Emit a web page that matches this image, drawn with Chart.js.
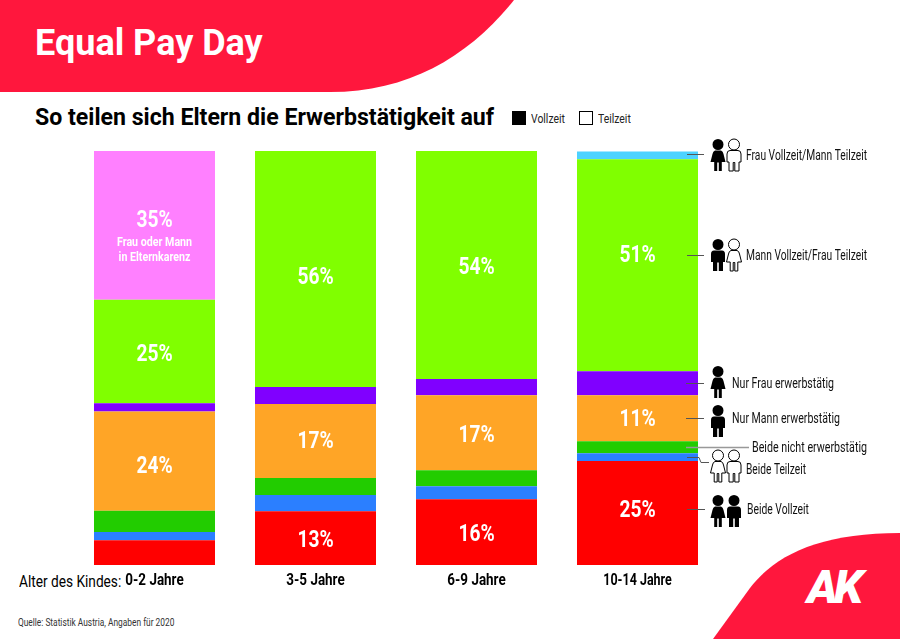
<!DOCTYPE html>
<html lang="de">
<head>
<meta charset="utf-8">
<title>Equal Pay Day</title>
<script src="https://cdn.jsdelivr.net/npm/chart.js@4"></script>
<style>
  html, body { margin: 0; padding: 0; background: #fff; }
  #page { position: relative; width: 900px; height: 639px; overflow: hidden; font-family: Roboto, sans-serif; color: #000; }
  #deko, #chart { position: absolute; left: 0; top: 0; }
  .txt { position: absolute; white-space: nowrap; line-height: 1; transform-origin: left center; }
  h1, h2 { margin: 0; }
  h1.txt { left: 35px; top: 25px; font-size: 36px; font-weight: 700; color: #fff; }
  h2.txt { left: 35px; top: 105px; font-size: 24px; font-weight: 700; transform: scaleX(.963); }
  .box { position: absolute; top: 111px; width: 14px; height: 14px; box-sizing: border-box; border: 1px solid #000; }
  .leg { top: 112px; font-size: 13px; transform: scaleX(.8); color: #222; }
  #alter { left: 19px; top: 574px; font-size: 16px; transform: scaleX(.855); }
  #quelle { left: 18px; top: 617px; font-size: 11px; transform: scaleX(.76); color: #333; }
  #logo { left: 807px; top: 563px; font-size: 47px; font-weight: 900; font-style: italic; letter-spacing: -4px; color: #fff; }
</style>
</head>
<body>
<div id="page">
  <svg id="deko" width="900" height="639">
    <path d="M0 0H514C470 55 410 92 330 92H0Z" fill="#ff173d"/>
    <path d="M713 639L750 588C775 555 820 533 900 533V639Z" fill="#ff173d"/>
  </svg>
  <h1 class="txt">Equal Pay Day</h1>
  <h2 class="txt">So teilen sich Eltern die Erwerbstätigkeit auf</h2>
  <div class="box" style="left:512px;background:#000"></div>
  <div class="txt leg" style="left:531px">Vollzeit</div>
  <div class="box" style="left:579px;background:#fff"></div>
  <div class="txt leg" style="left:598px">Teilzeit</div>
  <div class="txt" id="alter">Alter des Kindes:</div>
  <div class="txt" id="quelle">Quelle: Statistik Austria, Angaben für 2020</div>
  <div class="txt" id="logo">AK</div>
  <canvas id="chart" width="900" height="639"></canvas>
</div>

<script>
'use strict';

/* Daten, von unten nach oben gestapelt */
var altersgruppen = ['0-2 Jahre', '3-5 Jahre', '6-9 Jahre', '10-14 Jahre'];

var beideVollzeit    = [6.0, 13.0, 15.9, 25.1];
var beideTeilzeit    = [2.0, 3.9, 3.1, 1.9];
var beideNicht       = [5.1, 4.1, 3.9, 2.9];
var nurMann          = [24.0, 17.9, 18.1, 11.1];
var nurFrau          = [2.0, 4.1, 3.9, 5.8];
var mannVollFrauTeil = [25.0, 57.0, 55.1, 51.2];
var karenz           = [35.9, 0, 0, 0];
var frauVollMannTeil = [0, 0, 0, 1.9];

/* Aufgedruckte Prozentwerte */
var labelBeideVoll = ['', '13%', '16%', '25%'];
var labelNurMann   = ['24%', '17%', '17%', '11%'];
var labelMannVoll  = ['25%', '56%', '54%', '51%'];
var labelKarenz    = ['35%', '', '', ''];

/* vertikale Korrektur der Prozentwerte gegen die Segmentmitte */
var dyBeideVoll = [0, 3, 3, -2];
var dyNurMann   = [6, 1, 3, 2];
var dyMannVoll  = [4, 9, 3, -9];
var dyKarenz    = [-4, 0, 0, 0];

function serie(name, werte, farbe, labels, dy) {
  return { label: name, data: werte, backgroundColor: farbe, borderWidth: 0, prozent: labels, dy: dy };
}

/* Text schmal setzen: Roboto Condensed ist nicht installiert */
function schmal(ctx, text, x, y, faktor) {
  ctx.fillText(text, x, y, ctx.measureText(text).width * faktor);
}

/* Figur: frau = Kleid, voll = schwarz (Vollzeit), sonst Kontur (Teilzeit) */
function figur(ctx, cx, top, frau, voll) {
  var seite, s, bein;
  ctx.save();
  ctx.translate(cx, top);
  ctx.beginPath();
  ctx.arc(0, 5.5, 5.5, 0, Math.PI * 2);
  ctx.closePath();
  bein = frau ? 3.8 : 5;
  if (frau) {
    ctx.moveTo(-3, 11.5);
    ctx.lineTo(3, 11.5);
    ctx.quadraticCurveTo(5, 12, 5.5, 15);
    ctx.lineTo(7.5, 23);
  } else {
    ctx.moveTo(-4, 11.5);
    ctx.lineTo(4, 11.5);
    ctx.quadraticCurveTo(7, 11.5, 7, 15);
    ctx.lineTo(7, 23);
  }
  ctx.lineTo(bein, 23);
  ctx.lineTo(bein, 32);
  ctx.lineTo(0.8, 32);
  ctx.lineTo(0.8, 23.5);
  ctx.lineTo(-0.8, 23.5);
  ctx.lineTo(-0.8, 32);
  ctx.lineTo(-bein, 32);
  ctx.lineTo(-bein, 23);
  if (frau) {
    ctx.lineTo(-7.5, 23);
    ctx.lineTo(-5.5, 15);
    ctx.quadraticCurveTo(-5, 12, -3, 11.5);
  } else {
    ctx.lineTo(-7, 23);
    ctx.lineTo(-7, 15);
    ctx.quadraticCurveTo(-7, 11.5, -4, 11.5);
  }
  ctx.closePath();
  ctx.fillStyle = voll ? '#000' : '#fff';
  ctx.fill();
  if (!voll) {
    ctx.strokeStyle = '#000';
    ctx.lineWidth = 1;
    ctx.stroke();
  }
  ctx.restore();
}

/* Beschriftung rechts neben der letzten Säule */
var hinweise = [
  { text: 'Frau Vollzeit/Mann Teilzeit', x: 746, y: 156, w: 121, linie: [[687, 154], [704, 154]], figuren: [[718, 139, true, true], [734, 139, false, false]] },
  { text: 'Mann Vollzeit/Frau Teilzeit', x: 746, y: 256, w: 121, linie: [[687, 255], [704, 255]], figuren: [[718, 239, false, true], [734, 239, true, false]] },
  { text: 'Nur Frau erwerbstätig', x: 732, y: 384, w: 102, linie: [[686, 383], [704, 383]], figuren: [[718, 366, true, true]] },
  { text: 'Nur Mann erwerbstätig', x: 732, y: 419, w: 108, linie: [[686, 418], [704, 418]], figuren: [[718, 405, false, true]] },
  { text: 'Beide nicht erwerbstätig', x: 752, y: 448, w: 115, linie: [[686, 447], [749, 447]], figuren: [], grau: true },
  { text: 'Beide Teilzeit', x: 746, y: 470, w: 60, linie: [[687, 457], [699, 457], [701, 462], [709, 462]], figuren: [[718, 450, true, false], [734, 450, false, false]] },
  { text: 'Beide Vollzeit', x: 747, y: 510, w: 62, linie: [[687, 509], [705, 509]], figuren: [[718, 495, true, true], [734, 495, false, true]] }
];

var beschriftung = {
  id: 'beschriftung',
  afterDatasetsDraw: function(chart) {
    var ctx = chart.ctx;
    var i, j;
    ctx.save();
    ctx.textBaseline = 'middle';

    /* Prozentwerte in den Segmenten */
    ctx.textAlign = 'center';
    ctx.fillStyle = '#fff';
    ctx.font = '700 24px Roboto, sans-serif';
    chart.data.datasets.forEach(function(ds, d) {
      if (!ds.prozent) { return; }
      var bars = chart.getDatasetMeta(d).data;
      for (i = 0; i < bars.length; i++) {
        if (ds.prozent[i]) {
          schmal(ctx, ds.prozent[i], bars[i].x, (bars[i].y + bars[i].base) / 2 + ds.dy[i], 0.8);
        }
      }
    });

    /* Zusatz im Karenz-Segment */
    var karenzBar = chart.getDatasetMeta(6).data[0];
    ctx.font = '700 13px Roboto, sans-serif';
    schmal(ctx, 'Frau oder Mann', karenzBar.x, 243, 0.82);
    schmal(ctx, 'in Elternkarenz', karenzBar.x, 258, 0.82);

    /* Kategorien unter den Säulen */
    ctx.fillStyle = '#000';
    ctx.font = '700 16px Roboto, sans-serif';
    for (i = 0; i < chart.data.labels.length; i++) {
      schmal(ctx, chart.data.labels[i], chart.scales.x.getPixelForValue(i), 581, i === 3 ? 0.78 : 0.84);
    }

    /* Hinweise mit Linie und Figuren */
    ctx.textAlign = 'left';
    ctx.font = '400 14px Roboto, sans-serif';
    hinweise.forEach(function(h) {
      ctx.beginPath();
      ctx.moveTo(h.linie[0][0], h.linie[0][1] + 0.5);
      for (j = 1; j < h.linie.length; j++) {
        ctx.lineTo(h.linie[j][0], h.linie[j][1] + 0.5);
      }
      ctx.strokeStyle = h.grau ? '#999' : '#555';
      ctx.lineWidth = h.grau ? 1.5 : 1;
      ctx.stroke();
      h.figuren.forEach(function(f) { figur(ctx, f[0], f[1], f[2], f[3]); });
      ctx.fillStyle = '#111';
      ctx.fillText(h.text, h.x, h.y, h.w);
    });
    ctx.restore();
  }
};

new Chart(document.getElementById('chart'), {
  type: 'bar',
  data: {
    labels: altersgruppen,
    datasets: [
      serie('Beide Vollzeit', beideVollzeit, '#ff0000', labelBeideVoll, dyBeideVoll),
      serie('Beide Teilzeit', beideTeilzeit, '#2b7fff'),
      serie('Beide nicht erwerbstätig', beideNicht, '#22cc00'),
      serie('Nur Mann erwerbstätig', nurMann, '#ffa526', labelNurMann, dyNurMann),
      serie('Nur Frau erwerbstätig', nurFrau, '#8000ff'),
      serie('Mann Vollzeit/Frau Teilzeit', mannVollFrauTeil, '#80ff00', labelMannVoll, dyMannVoll),
      serie('Frau oder Mann in Elternkarenz', karenz, '#ff80ff', labelKarenz, dyKarenz),
      serie('Frau Vollzeit/Mann Teilzeit', frauVollMannTeil, '#4dd2ff')
    ]
  },
  options: {
    responsive: false,
    animation: false,
    layout: { padding: { left: 74, right: 182, top: 151, bottom: 74 } },
    plugins: { legend: { display: false }, title: { display: false }, tooltip: { enabled: false } },
    datasets: { bar: { categoryPercentage: 1, barPercentage: 0.7516 } },
    scales: {
      x: { stacked: true, display: false },
      y: { stacked: true, display: false, min: 0, max: 100 }
    }
  },
  plugins: [beschriftung]
});
</script>
</body>
</html>
